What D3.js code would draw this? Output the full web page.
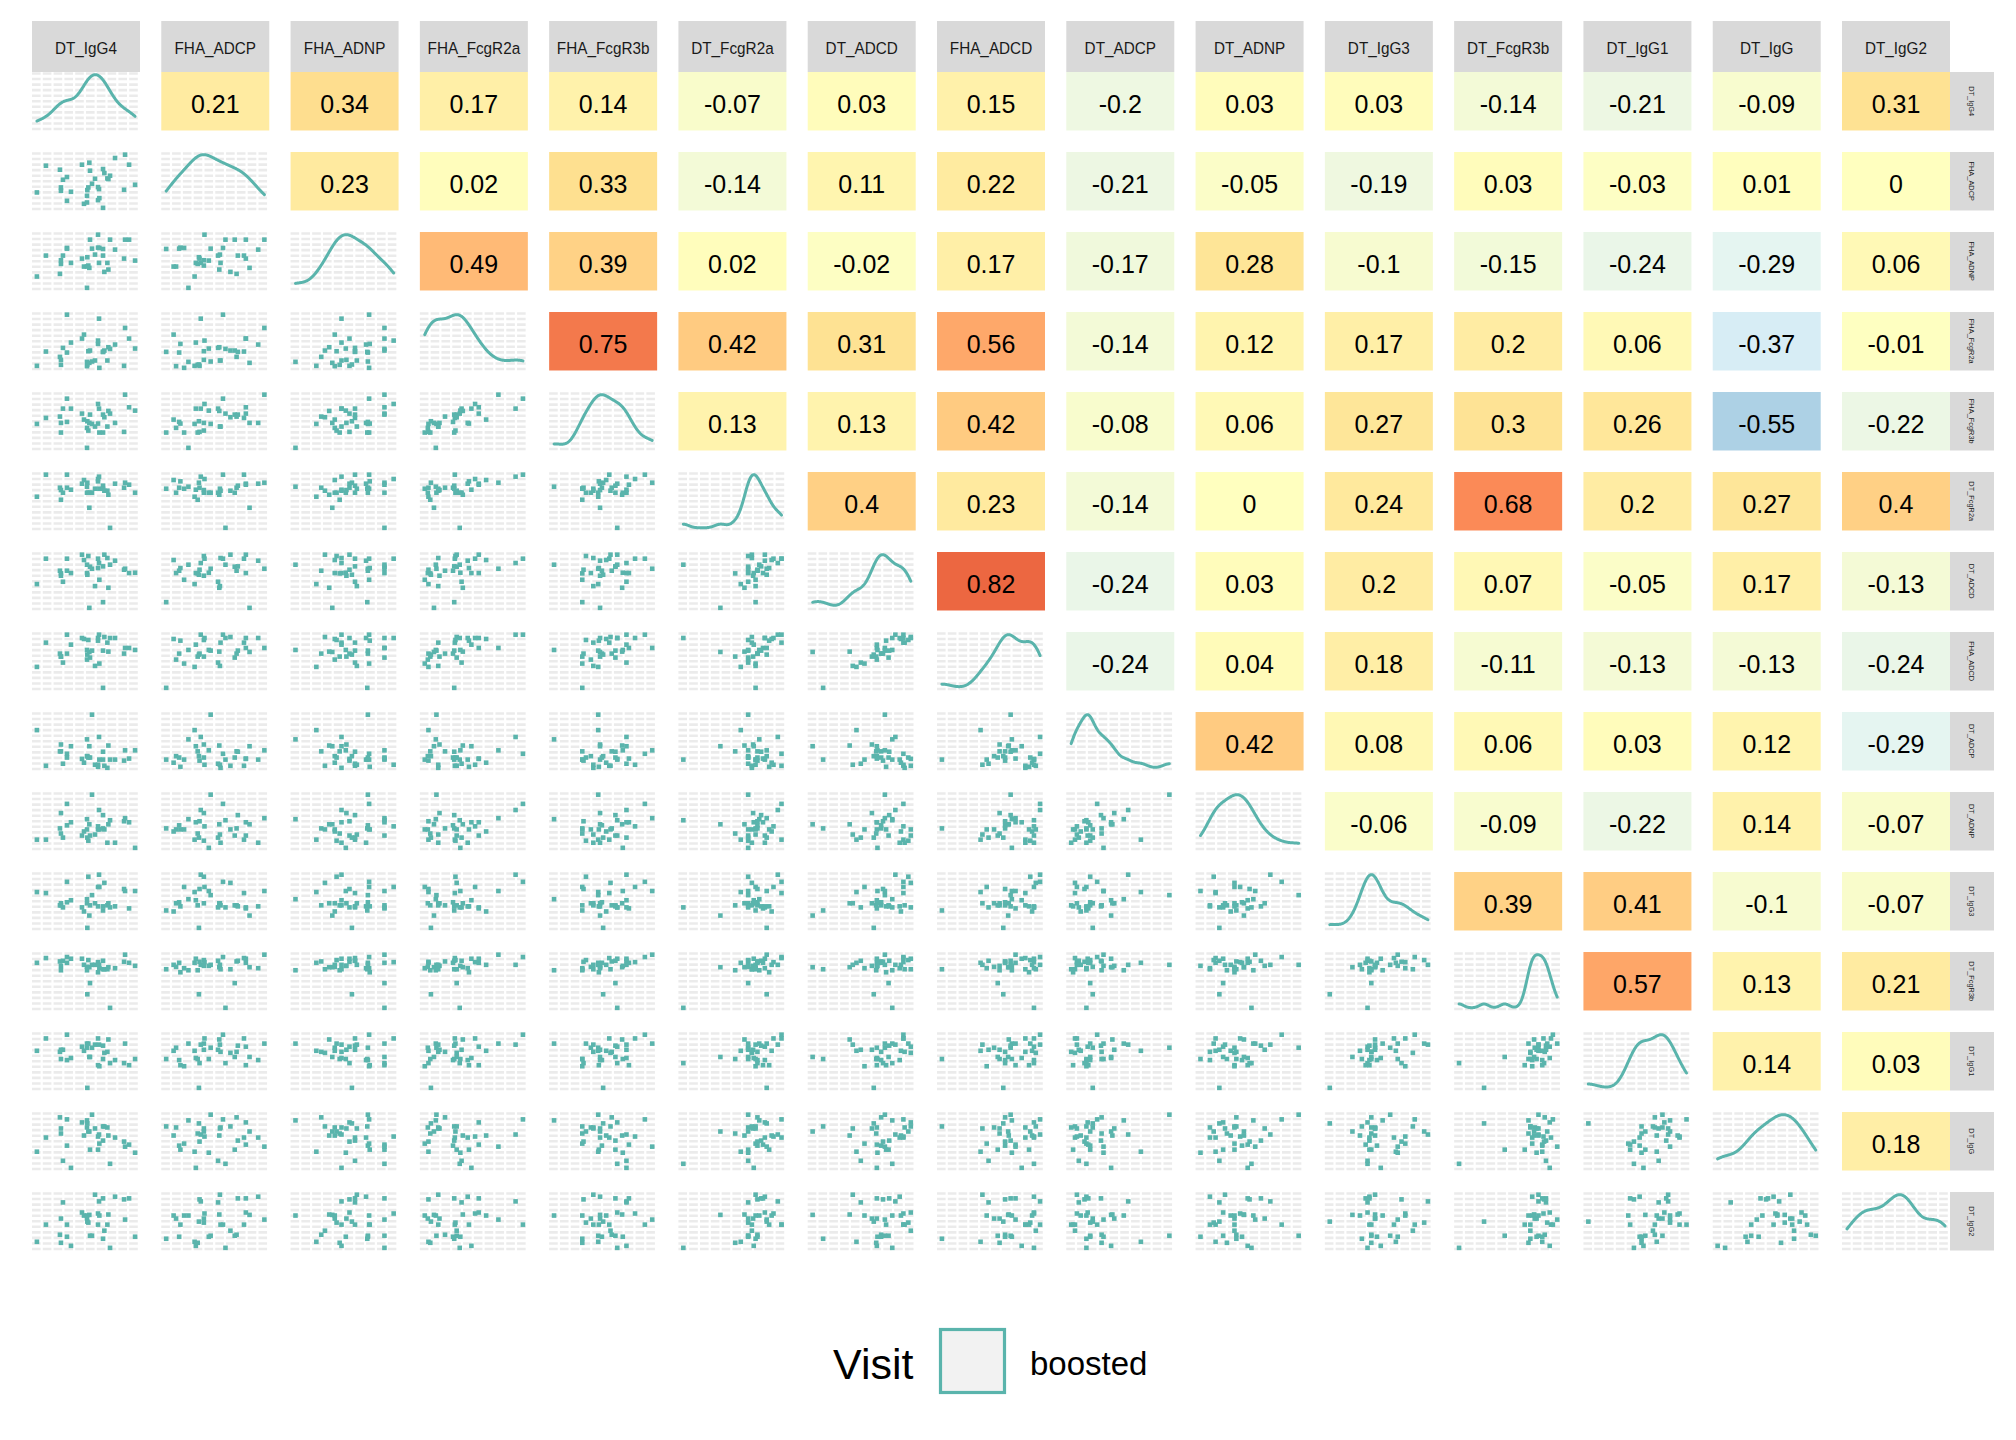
<!DOCTYPE html>
<html><head><meta charset="utf-8">
<script src="https://cdn.jsdelivr.net/npm/d3@7"></script>
<style>html,body{margin:0;padding:0;background:#fff;} svg{display:block;font-family:"Liberation Sans",Arial,sans-serif;}</style>
</head><body><svg id="chart" width="2016" height="1440"></svg>
<script>
// ---- variable names (column / row order) ----
const variables = ["DT_IgG4","FHA_ADCP","FHA_ADNP","FHA_FcgR2a","FHA_FcgR3b","DT_FcgR2a","DT_ADCD","FHA_ADCD","DT_ADCP","DT_ADNP","DT_IgG3","DT_FcgR3b","DT_IgG1","DT_IgG","DT_IgG2"];

// ---- per-sample values (arbitrary units, 34 samples) ----
const DT_IgG4    = [26,53,95,98,98,104,116,116,128,161,167,176,176,177,180,183,185,191,200,209,209,212,213,224,224,228,237,240,245,260,287,290,302,320];
const FHA_ADCP   = [53,133,121,68,58,91,99,28,55,136,19,43,23,60,68,142,118,79,94,69,30,63,36,123,7,111,95,93,103,156,61,166,136,76];
const FHA_ADNP   = [40,103,48,89,78,103,126,124,81,94,70,6,70,98,73,66,151,124,106,166,127,81,126,103,123,54,81,61,151,121,94,151,151,88];
const FHA_FcgR2a = [12,55,39,30,15,66,166,52,82,94,106,24,11,16,56,21,58,25,28,88,78,154,6,54,54,58,28,68,63,76,12,126,94,64];
const FHA_FcgR3b = [78,96,100,81,52,124,154,84,124,109,91,6,66,86,58,81,106,78,70,138,79,124,52,106,52,98,70,117,109,81,54,166,128,118];
const DT_FcgR2a  = [100,166,127,120,91,112,166,127,121,139,150,130,112,142,112,67,112,112,124,153,146,160,124,133,124,118,118,106,7,139,127,142,136,112];
const DT_ADCD    = [78,154,118,103,110,85,154,118,111,166,150,136,111,106,162,7,130,124,72,154,126,141,91,131,24,166,156,67,136,148,121,124,111,112];
const FHA_ADCD   = [69,142,109,100,100,82,166,109,136,156,153,120,91,106,150,114,97,118,72,156,148,166,79,118,6,159,142,115,156,156,109,126,126,120];
const DT_ADCP    = [120,16,58,78,58,22,51,40,73,36,25,93,44,44,40,73,40,165,19,19,13,100,34,57,34,16,10,75,34,34,31,61,37,61];
const DT_ADNP    = [34,34,67,112,52,40,139,76,85,46,58,94,64,40,31,79,46,166,49,73,64,121,64,106,67,64,25,79,91,25,88,97,85,10];
const DT_IgG3    = [115,112,76,82,76,70,145,85,91,70,58,94,82,10,160,46,76,106,82,130,73,166,130,73,61,142,76,82,70,73,124,118,67,118];
const DT_FcgR3b  = [142,156,146,133,120,148,159,142,154,154,136,120,130,49,150,129,82,136,136,144,114,136,126,148,123,123,123,129,9,126,145,166,142,133];
const DT_IgG1    = [118,154,115,121,94,121,165,91,97,130,118,139,127,10,139,100,100,127,136,154,76,136,73,133,94,112,115,151,82,91,82,139,76,94];
const DT_IgG     = [58,100,160,127,112,31,154,76,10,145,106,151,130,142,118,118,64,168,127,103,64,109,82,91,133,133,130,106,22,100,88,73,79,55];
const DT_IgG2    = [28,79,49,97,25,145,79,43,16,115,106,106,97,88,85,108,46,46,168,112,79,148,106,157,37,61,79,109,10,162,154,94,157,43];

// ---- correlation values shown in the upper triangle (row i, columns i+1..) ----
const corrRows = [
  [0.21,0.34,0.17,0.14,-0.07,0.03,0.15,-0.2,0.03,0.03,-0.14,-0.21,-0.09,0.31],
  [0.23,0.02,0.33,-0.14,0.11,0.22,-0.21,-0.05,-0.19,0.03,-0.03,0.01,0],
  [0.49,0.39,0.02,-0.02,0.17,-0.17,0.28,-0.1,-0.15,-0.24,-0.29,0.06],
  [0.75,0.42,0.31,0.56,-0.14,0.12,0.17,0.2,0.06,-0.37,-0.01],
  [0.13,0.13,0.42,-0.08,0.06,0.27,0.3,0.26,-0.55,-0.22],
  [0.4,0.23,-0.14,0,0.24,0.68,0.2,0.27,0.4],
  [0.82,-0.24,0.03,0.2,0.07,-0.05,0.17,-0.13],
  [-0.24,0.04,0.18,-0.11,-0.13,-0.13,-0.24],
  [0.42,0.08,0.06,0.03,0.12,-0.29],
  [-0.06,-0.09,-0.22,0.14,-0.07],
  [0.39,0.41,-0.1,-0.07],
  [0.57,0.13,0.21],
  [0.14,0.03],
  [0.18]
];

const legendTitle = "Visit";
const legendLabels = ["boosted"];

// ---- build ----
const series = [DT_IgG4,FHA_ADCP,FHA_ADNP,FHA_FcgR2a,FHA_FcgR3b,DT_FcgR2a,DT_ADCD,FHA_ADCD,DT_ADCP,DT_ADNP,DT_IgG3,DT_FcgR3b,DT_IgG1,DT_IgG,DT_IgG2];
const n = variables.length;
const teal = "#5AB4AC";

const svg = d3.select("#chart");
svg.append("rect").attr("width",2016).attr("height",1440).attr("fill","#fff");

const colScale = d3.scaleBand().domain(d3.range(n)).range([32,1950]).paddingInner(0.1647).paddingOuter(0);
const rowScale = d3.scaleBand().domain(d3.range(n)).range([72,1250.5]).paddingInner(0.269).paddingOuter(0);
const bw = colScale.bandwidth(), bh = rowScale.bandwidth();

const corrColor = d3.scaleLinear()
  .domain([-1,-2/3,-1/3,0,1/3,2/3,1])
  .range(["#4575b4","#91bfdb","#e0f3f8","#ffffbf","#fee090","#fc8d59","#d73027"])
  .interpolate(d3.interpolateLab).clamp(true);

function padded(ext){ const d=(ext[1]-ext[0])||1; return [ext[0]-0.05*d, ext[1]+0.05*d]; }
const xScales = series.map(s => d3.scaleLinear().domain(padded(d3.extent(s))).range([0,bw]));
const yScales = series.map(s => d3.scaleLinear().domain(padded(d3.extent(s))).range([bh,0]));

function nrd0(x){
  const s = d3.deviation(x);
  const sorted = x.slice().sort(d3.ascending);
  const iqr = d3.quantileSorted(sorted,0.75) - d3.quantileSorted(sorted,0.25);
  let lo = Math.min(s, iqr/1.34);
  if(!(lo>0)) lo = s || 1;
  return 0.9*lo*Math.pow(x.length,-0.2);
}
function kde(x){
  const h = nrd0(x), ext = d3.extent(x), m = 256;
  return d3.range(m).map(k => {
    const t = ext[0] + (ext[1]-ext[0])*k/(m-1);
    const d = d3.mean(x, v => Math.exp(-0.5*((t-v)/h)**2)) / (h*Math.sqrt(2*Math.PI));
    return [t,d];
  });
}

function drawGrid(g){
  const nl = 11;
  const ys = d3.range(nl).map(k => 1.5 + (bh-3)*k/(nl-1));
  g.selectAll("line.grid").data(ys).join("line").attr("class","grid")
    .attr("x1",0).attr("x2",bw).attr("y1",d=>d).attr("y2",d=>d)
    .attr("stroke","#EBEBEB").attr("stroke-width",2.6)
    .attr("stroke-dasharray","8.6,2.2");
}

for(let i=0;i<n;i++){
  for(let j=0;j<n;j++){
    const g = svg.append("g").attr("transform",`translate(${colScale(j)},${rowScale(i)})`);
    if(i<j){
      const v = corrRows[i][j-i-1];
      g.append("rect").attr("width",bw).attr("height",bh).attr("fill",corrColor(v));
      g.append("text").attr("x",bw/2).attr("y",bh/2+2.4).attr("dy","0.36em")
        .attr("text-anchor","middle").attr("font-size",25).attr("fill","#000").text(String(v));
    } else if(i===j){
      drawGrid(g);
      const dens = kde(series[i]);
      const yd = d3.scaleLinear().domain(padded([0, d3.max(dens,d=>d[1])])).range([bh,0]);
      const line = d3.line().x(d=>xScales[i](d[0])).y(d=>yd(d[1])).curve(d3.curveLinear);
      g.append("path").attr("d",line(dens)).attr("fill","none").attr("stroke",teal)
        .attr("stroke-width",3).attr("stroke-linejoin","round").attr("stroke-linecap","round");
    } else {
      drawGrid(g);
      const xs = xScales[j], ys = yScales[i];
      const pts = series[j].map((v,k)=>[v, series[i][k]]);
      const sz = 4.6;
      g.selectAll("rect.pt").data(pts).join("rect").attr("class","pt")
        .attr("x",d=>xs(d[0])-sz/2).attr("y",d=>ys(d[1])-sz/2)
        .attr("width",sz).attr("height",sz).attr("fill",teal);
    }
  }
}

// top strips
const topStrips = svg.append("g");
variables.forEach((name,j)=>{
  topStrips.append("rect").attr("x",colScale(j)).attr("y",21).attr("width",bw).attr("height",51).attr("fill","#D9D9D9");
  topStrips.append("text").attr("transform",`translate(${colScale(j)+bw/2},48) scale(1,1.12)`).attr("dy","0.36em")
    .attr("text-anchor","middle").attr("font-size",15.3).attr("fill","#1A1A1A").text(name);
});
// right strips
const rightStrips = svg.append("g");
variables.forEach((name,i)=>{
  const cy = rowScale(i)+bh/2;
  rightStrips.append("rect").attr("x",1950).attr("y",rowScale(i)).attr("width",44).attr("height",bh).attr("fill","#D9D9D9");
  rightStrips.append("text").attr("transform",`translate(1972,${cy}) rotate(90)`).attr("dy","0.36em")
    .attr("text-anchor","middle").attr("font-size",7.4).attr("fill","#1A1A1A").text(name);
});

// legend
const lg = svg.append("g");
lg.append("text").attr("x",833).attr("y",1379).attr("font-size",43).attr("fill","#000").text(legendTitle);
lg.append("rect").attr("x",940.5).attr("y",1329.5).attr("width",64).attr("height",63)
  .attr("fill","#F2F2F2").attr("stroke",teal).attr("stroke-width",3.2);
lg.append("text").attr("x",1030).attr("y",1375).attr("font-size",33).attr("fill","#000").text(legendLabels[0]);
</script></body></html>
